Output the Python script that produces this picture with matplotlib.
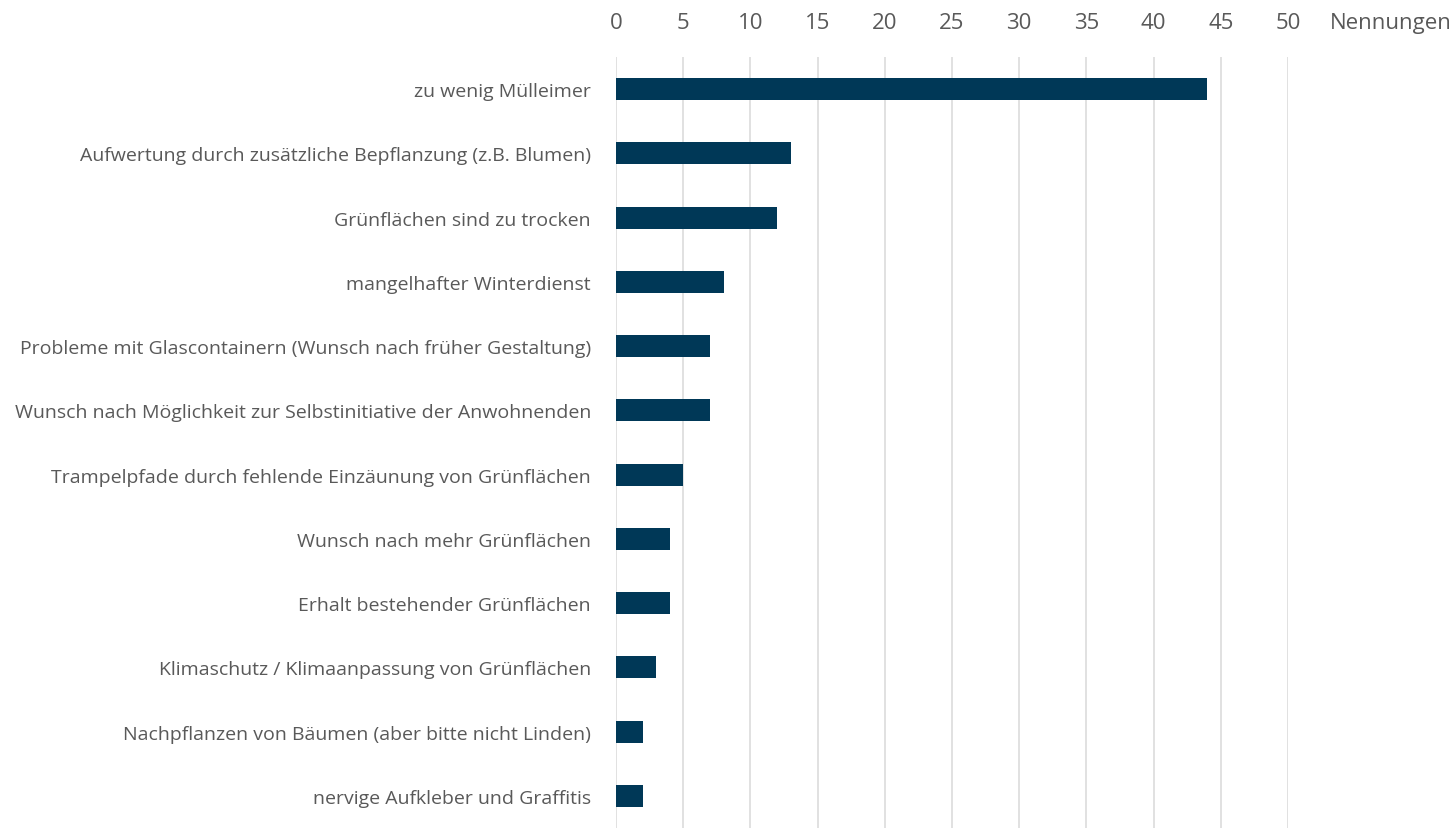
import numpy as np
import matplotlib.pyplot as plt

plt.rcParams['font.family'] = ['Open Sans', 'DejaVu Sans']

# Daten aus der Grafik
kategorien = [
    'zu wenig Mülleimer',
    'Aufwertung durch zusätzliche Bepflanzung (z.B. Blumen)',
    'Grünflächen sind zu trocken',
    'mangelhafter Winterdienst',
    'Probleme mit Glascontainern (Wunsch nach früher Gestaltung)',
    'Wunsch nach Möglichkeit zur Selbstinitiative der Anwohnenden',
    'Trampelpfade durch fehlende Einzäunung von Grünflächen',
    'Wunsch nach mehr Grünflächen',
    'Erhalt bestehender Grünflächen',
    'Klimaschutz / Klimaanpassung von Grünflächen',
    'Nachpflanzen von Bäumen (aber bitte nicht Linden)',
    'nervige Aufkleber und Graffitis',
]
nennungen = [44, 13, 12, 8, 7, 7, 5, 4, 4, 3, 2, 2]
x_ticks = [0, 5, 10, 15, 20, 25, 30, 35, 40, 45, 50]

text_col = '#595959'
bar_col = '#003857'

fig = plt.figure(figsize=(14.56, 8.29), dpi=100)
ax = fig.add_axes([616/1456, 0.0, (1288-616)/1456, 1 - 58/829])

y = np.arange(len(kategorien))
ax.barh(y, nennungen, height=0.34, color=bar_col, zorder=3)

ax.set_xlim(0, 50)
ax.set_ylim(len(kategorien) - 0.5, -0.5)
ax.set_yticks(y)
ax.set_yticklabels(kategorien, fontsize=14, color=text_col)
ax.set_xticks(x_ticks)
ax.set_xticklabels([str(t) for t in x_ticks], fontsize=16, color=text_col)
ax.xaxis.tick_top()
ax.tick_params(axis='x', length=0, pad=17)
ax.tick_params(axis='y', length=0, pad=18)

ax.grid(axis='x', color='#dcdcdc', linewidth=1.2, zorder=0)
for s in ax.spines.values():
    s.set_visible(False)

# Achsenbeschriftung rechts neben den Ticks, gleiche Hoehe wie Ticklabels
ax.annotate('Nennungen', xy=(1.0625, 1.0), xycoords='axes fraction',
            xytext=(0, 17), textcoords='offset points', fontsize=16,
            color=text_col, ha='left', va='bottom')

fig.savefig('out.png', dpi=100)
